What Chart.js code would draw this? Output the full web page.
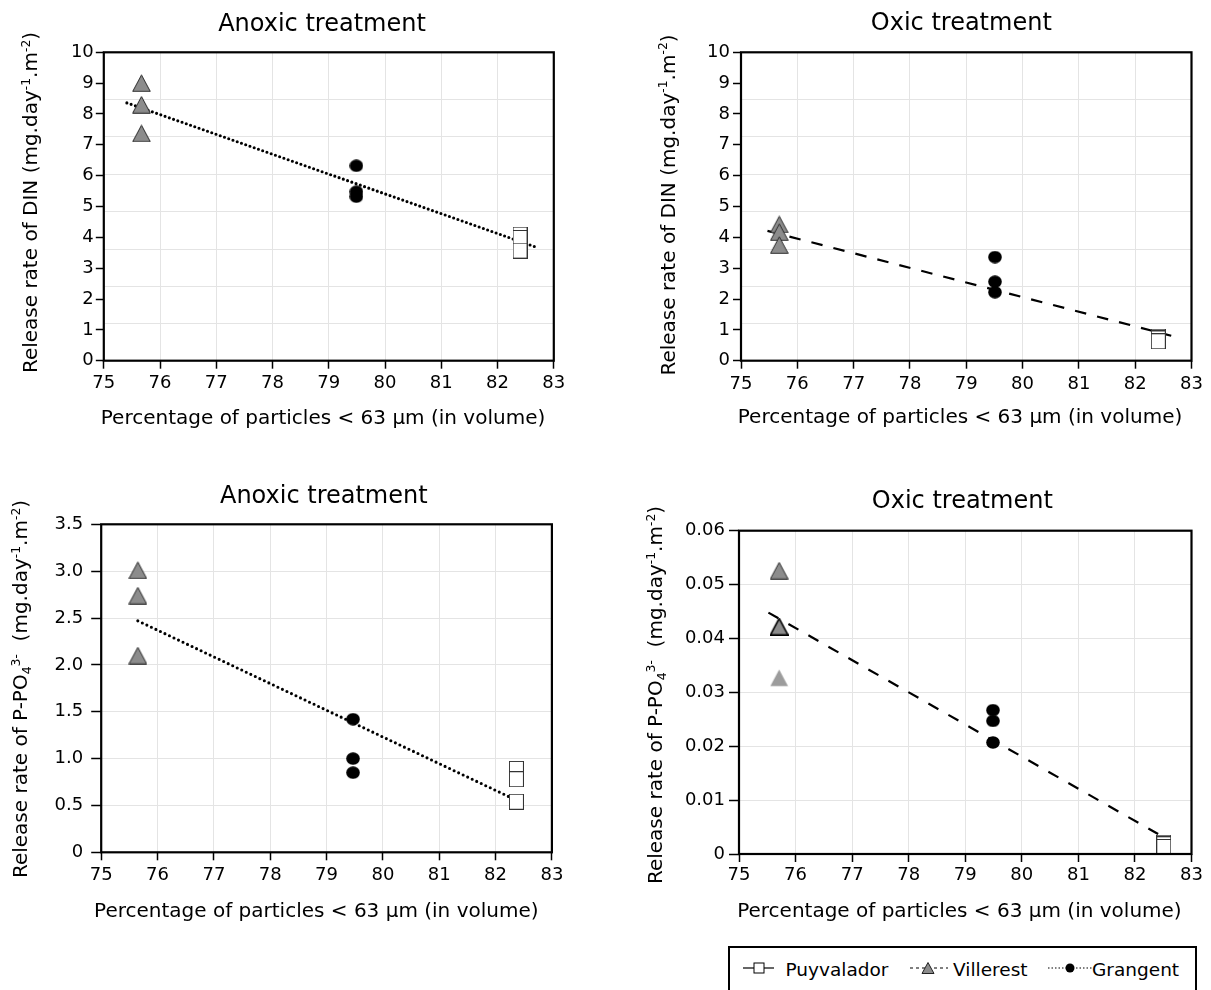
<!DOCTYPE html>
<html>
<head>
<meta charset="utf-8">
<script src="https://cdn.jsdelivr.net/npm/chart.js@4.4.0/dist/chart.umd.min.js"></script>
<style>
html, body { margin: 0; padding: 0; background: #fff; }
body { width: 1211px; height: 990px; position: relative; overflow: hidden; font-family: 'DejaVu Sans', sans-serif; }
canvas { position: absolute; }
#legendBox { position: absolute; left: 728px; top: 946px; width: 469px; height: 60px; border: 2px solid #000; box-sizing: border-box; }
.lg { position: absolute; font-size: 18.5px; line-height: 18.5px; color: #000; white-space: nowrap; }
#legendIcons { position: absolute; left: 0; top: 940px; }
</style>
</head>
<body>
<canvas id="c1"></canvas>
<canvas id="c2"></canvas>
<canvas id="c3"></canvas>
<canvas id="c4"></canvas>
<div id="legendBox"></div>
<svg id="legendIcons" width="1211" height="50">
  <line x1="743" y1="28" x2="774" y2="28" stroke="#000" stroke-width="1.2"/>
  <rect x="754" y="23" width="10" height="10" fill="#fff" stroke="#000" stroke-width="1"/>
  <line x1="910" y1="28" x2="948" y2="28" stroke="#000" stroke-width="1.2" stroke-dasharray="3,3"/>
  <polygon points="922,33.5 934,33.5 928,22.5" fill="#8c8c8c" stroke="#222" stroke-width="1"/>
  <line x1="1048" y1="28" x2="1092" y2="28" stroke="#000" stroke-width="1.2" stroke-dasharray="1.5,2"/>
  <circle cx="1070" cy="28" r="4.5" fill="#000"/>
</svg>
<script>
// ---------------- DATA ----------------
const sites = ['Puyvalador', 'Villerest', 'Grangent'];
const xTickLabels = ['75', '76', '77', '78', '79', '80', '81', '82', '83'];
const dinTickLabels = ['0', '1', '2', '3', '4', '5', '6', '7', '8', '9', '10'];
const pAnoxicTickLabels = ['0', '0.5', '1.0', '1.5', '2.0', '2.5', '3.0', '3.5'];
const pOxicTickLabels = ['0', '0.01', '0.02', '0.03', '0.04', '0.05', '0.06'];
const dinGridLines = [1.21, 2.42, 3.62, 4.83, 6.04, 7.26, 8.48];

// x position of each site (order: Puyvalador, Villerest, Grangent)
const dinAnoxicX = [82.40, 75.67, 79.49];
const dinAnoxicPuyvalador = [4.09, 3.98, 3.57];
const dinAnoxicVillerest = [9.00, 8.30, 7.37];
const dinAnoxicGrangent = [6.32, 5.48, 5.32];
const dinAnoxicTrendX = [75.41, 82.69];
const dinAnoxicTrendY = [8.36, 3.68];

const dinOxicX = [82.41, 75.68, 79.51];
const dinOxicPuyvalador = [0.78, 0.72, 0.63];
const dinOxicVillerest = [4.42, 4.17, 3.75];
const dinOxicGrangent = [3.36, 2.56, 2.22];
const dinOxicTrendX = [75.47, 82.64];
const dinOxicTrendY = [4.21, 0.81];

const pAnoxicX = [82.37, 75.65, 79.47];
const pAnoxicPuyvalador = [0.89, 0.78, 0.54];
const pAnoxicVillerest = [3.01, 2.74, 2.10];
const pAnoxicGrangent = [1.42, 1.00, 0.85];
const pAnoxicTrendX = [75.65, 82.25];
const pAnoxicTrendY = [2.47, 0.59];

const pOxicX = [82.51, 75.71, 79.49];
const pOxicPuyvalador = [0.0021, 0.0018, 0.0013];
const pOxicVillerest = [0.0526, 0.0422, 0.0327];
const pOxicGrangent = [0.0267, 0.0247, 0.0207];
const pOxicTrendX = [75.52, 82.41];
const pOxicTrendY = [0.0448, 0.0037];

const titleAnoxic = 'Anoxic treatment';
const titleOxic = 'Oxic treatment';
const xAxisTitle = 'Percentage of particles < 63 \u00b5m (in volume)';
const yTitleDIN = [['Release rate of DIN (mg.day', ''], ['-1', 'sup'], ['.m', ''], ['-2', 'sup'], [')', '']];
const yTitleP = [['Release rate of P-PO', ''], ['4', 'sub'], ['3-', 'sup'], ['  (mg.day', ''], ['-1', 'sup'], ['.m', ''], ['-2', 'sup'], [')', '']];

// ---------------- STYLE ----------------
const FAMILY = "'DejaVu Sans', sans-serif";
Chart.defaults.font.family = FAMILY;
Chart.defaults.color = '#000';
const GRID = '#e4e4e4';
const TICK_SIZE = 18;

function marker(w, h, draw) {
  const c = document.createElement('canvas');
  c.width = w; c.height = h;
  draw(c.getContext('2d'), w, h);
  return c;
}
function triangle(fill, stroke, lw) {
  return marker(19, 18, (g, w, h) => {
    g.beginPath();
    g.moveTo(w / 2, 0.8); g.lineTo(w - 0.7, h - 0.7); g.lineTo(0.7, h - 0.7); g.closePath();
    g.fillStyle = fill; g.fill();
    if (stroke) { g.lineWidth = lw; g.strokeStyle = stroke; g.stroke(); }
  });
}
const triMark = triangle('#8c8c8c', '#2a2a2a', 1);
const triBold = triangle('#8c8c8c', '#000', 1.6);
const triLight = triangle('#9c9c9c', null, 0);
const dotMark = marker(14, 13, (g) => {
  g.beginPath(); g.ellipse(7, 6.5, 6.8, 6.2, 0, 0, Math.PI * 2); g.fillStyle = '#000'; g.fill();
});
const sqMark = marker(15, 16, (g) => {
  g.fillStyle = '#fff'; g.fillRect(0.5, 0.5, 14, 15);
  g.lineWidth = 1; g.strokeStyle = '#333'; g.strokeRect(0.5, 0.5, 14, 15);
});

function sitePoints(x, ys) { return ys.map(y => ({ x: x, y: y })); }
function linePoints(xs, ys) { return xs.map((x, i) => ({ x: x, y: ys[i] })); }

function drawRich(ctx, segs, cx, cy, size, vertical) {
  ctx.save();
  ctx.translate(cx, cy);
  if (vertical) ctx.rotate(-Math.PI / 2);
  const small = size * 0.62;
  const fontOf = k => (k ? small : size) + 'px ' + FAMILY;
  let total = 0;
  const widths = segs.map(([s, k]) => { ctx.font = fontOf(k); const m = ctx.measureText(s).width; total += m; return m; });
  let x = -total / 2;
  const base = size * 0.365;
  ctx.textBaseline = 'alphabetic';
  ctx.textAlign = 'left';
  ctx.fillStyle = '#000';
  segs.forEach(([s, k], i) => {
    ctx.font = fontOf(k);
    const dy = k === 'sup' ? -size * 0.37 : (k === 'sub' ? size * 0.2 : 0);
    ctx.fillText(s, x, base + dy);
    x += widths[i];
  });
  ctx.restore();
}

const framePlugin = {
  id: 'frameText',
  afterDatasetsDraw(chart, args, o) {
    const a = chart.chartArea, ctx = chart.ctx;
    ctx.save();
    ctx.lineWidth = 2.2;
    ctx.strokeStyle = '#000';
    ctx.strokeRect(a.left, a.top, a.right - a.left, a.bottom - a.top);
    ctx.restore();
  },
  afterDraw(chart, args, o) {
    const ctx = chart.ctx;
    drawRich(ctx, [[o.title, '']], o.titleX - o.ox, o.titleY - o.oy, 24, false);
    drawRich(ctx, [[o.xTitle, '']], o.xTitleX - o.ox, o.xTitleY - o.oy, 20, false);
    drawRich(ctx, o.yTitle, o.yTitleX - o.ox, o.yTitleY - o.oy, 20, true);
  }
};

function makeChart(cfg) {
  const b = cfg.box, p = cfg.plot;
  const canvas = document.getElementById(cfg.id);
  canvas.width = b.w; canvas.height = b.h;
  canvas.style.left = b.x + 'px'; canvas.style.top = b.y + 'px';

  const scales = {
    x: {
      type: 'linear', min: 75, max: 83,
      ticks: { stepSize: 1, autoSkip: false, maxRotation: 0, minRotation: 0, padding: cfg.xTickPad,
        font: { size: TICK_SIZE }, color: '#000', callback: (v, i) => xTickLabels[i] },
      grid: { color: GRID, lineWidth: 1, tickLength: 8, tickColor: '#000', tickWidth: 1.5 },
      border: { display: false },
      afterFit: s => { s.height = b.y + b.h - p.b; }
    },
    y: {
      type: 'linear', min: cfg.yMin, max: cfg.yMax,
      ticks: { stepSize: cfg.yStep, autoSkip: false, padding: cfg.yTickPad,
        font: { size: TICK_SIZE }, color: '#000', callback: (v, i) => cfg.yLabels[i] },
      grid: { color: GRID, lineWidth: 1, drawOnChartArea: !cfg.gridLines, tickLength: cfg.yTickLen, tickColor: '#000', tickWidth: 1.5 },
      border: { display: false },
      afterFit: s => { s.width = p.l - b.x; }
    }
  };
  if (cfg.gridLines) {
    scales.yg = {
      type: 'linear', position: 'right', min: cfg.yMin, max: cfg.yMax,
      afterBuildTicks: s => { s.ticks = cfg.gridLines.map(v => ({ value: v })); },
      ticks: { display: false },
      grid: { color: GRID, lineWidth: 1, drawTicks: false },
      border: { display: false },
      afterFit: s => { s.width = 0; }
    };
  }

  const datasets = [
    { label: sites[0], data: sitePoints(cfg.x[0], cfg.puy), pointStyle: sqMark, pointRadius: 7, showLine: false, order: 0 },
    { label: sites[1], data: sitePoints(cfg.x[1], cfg.vil), pointStyle: cfg.triStyles || triMark, pointRadius: 7, showLine: false, order: 0 },
    { label: sites[2], data: sitePoints(cfg.x[2], cfg.gra), pointStyle: dotMark, pointRadius: 7, showLine: false, order: 0 },
    { label: 'trend', data: linePoints(cfg.trendX, cfg.trendY), showLine: true, pointRadius: 0,
      borderColor: '#000', borderWidth: cfg.dashWidth, borderDash: cfg.dash, borderCapStyle: cfg.cap, fill: false, order: 1 }
  ];

  return new Chart(canvas, {
    type: 'scatter',
    data: { datasets: datasets },
    options: {
      responsive: false,
      animation: false,
      events: [],
      layout: { padding: { left: 0, top: p.t - b.y, right: b.x + b.w - p.r, bottom: 0 } },
      scales: scales,
      plugins: {
        legend: { display: false },
        tooltip: { enabled: false },
        title: { display: false },
        frameText: {
          ox: b.x, oy: b.y,
          title: cfg.title, titleX: cfg.titlePos[0], titleY: cfg.titlePos[1],
          xTitle: xAxisTitle, xTitleX: cfg.xTitlePos[0], xTitleY: cfg.xTitlePos[1],
          yTitle: cfg.yTitle, yTitleX: cfg.yTitlePos[0], yTitleY: cfg.yTitlePos[1]
        }
      }
    },
    plugins: [framePlugin]
  });
}

makeChart({
  id: 'c1', box: { x: 0, y: 0, w: 600, h: 440 }, plot: { l: 103.8, r: 553.8, t: 52.3, b: 360.7 },
  yMin: 0, yMax: 10, yStep: 1, yLabels: dinTickLabels, gridLines: dinGridLines,
  xTickPad: 4, yTickPad: 2, yTickLen: 8,
  x: dinAnoxicX, puy: dinAnoxicPuyvalador, vil: dinAnoxicVillerest, gra: dinAnoxicGrangent,
  trendX: dinAnoxicTrendX, trendY: dinAnoxicTrendY, dash: [0, 4.5], dashWidth: 3.1, cap: 'round',
  title: titleAnoxic, titlePos: [322, 22.5], xTitlePos: [323, 416.3], yTitle: yTitleDIN, yTitlePos: [29.8, 202.5]
});

makeChart({
  id: 'c2', box: { x: 600, y: 0, w: 611, h: 440 }, plot: { l: 741, r: 1191.5, t: 52.3, b: 360.7 },
  yMin: 0, yMax: 10, yStep: 1, yLabels: dinTickLabels, gridLines: dinGridLines,
  xTickPad: 4.5, yTickPad: 3, yTickLen: 8,
  x: dinOxicX, puy: dinOxicPuyvalador, vil: dinOxicVillerest, gra: dinOxicGrangent,
  trendX: dinOxicTrendX, trendY: dinOxicTrendY, dash: [11.5, 11.2], dashWidth: 2.2, cap: 'butt',
  title: titleOxic, titlePos: [961.3, 20.8], xTitlePos: [960, 415.8], yTitle: yTitleDIN, yTitlePos: [667.4, 205]
});

makeChart({
  id: 'c3', box: { x: 0, y: 460, w: 600, h: 470 }, plot: { l: 101.2, r: 551.9, t: 524.3, b: 852.3 },
  yMin: 0, yMax: 3.5, yStep: 0.5, yLabels: pAnoxicTickLabels, gridLines: null,
  xTickPad: 4.6, yTickPad: 8, yTickLen: 10,
  x: pAnoxicX, puy: pAnoxicPuyvalador, vil: pAnoxicVillerest, gra: pAnoxicGrangent,
  trendX: pAnoxicTrendX, trendY: pAnoxicTrendY, dash: [0, 5], dashWidth: 3.1, cap: 'round',
  title: titleAnoxic, titlePos: [323.8, 494.2], xTitlePos: [316.3, 910], yTitle: yTitleP, yTitlePos: [19.6, 689]
});

makeChart({
  id: 'c4', box: { x: 600, y: 460, w: 611, h: 470 }, plot: { l: 739, r: 1191.5, t: 530.7, b: 854 },
  yMin: 0, yMax: 0.06, yStep: 0.01, yLabels: pOxicTickLabels, gridLines: null,
  xTickPad: 2.5, yTickPad: 4, yTickLen: 10,
  x: pOxicX, puy: pOxicPuyvalador, vil: pOxicVillerest, gra: pOxicGrangent,
  triStyles: [triMark, triBold, triLight],
  trendX: pOxicTrendX, trendY: pOxicTrendY, dash: [11.5, 11.5], dashWidth: 2.2, cap: 'butt',
  title: titleOxic, titlePos: [962.3, 499.2], xTitlePos: [959.4, 910], yTitle: yTitleP, yTitlePos: [654.8, 695]
});

// ---------------- LEGEND ----------------
const legendLeft = [785.5, 953, 1092];
sites.forEach((name, i) => {
  const d = document.createElement('div');
  d.className = 'lg';
  d.style.left = legendLeft[i] + 'px';
  d.style.top = '961px';
  d.textContent = name;
  document.body.appendChild(d);
});
</script>
</body>
</html>
